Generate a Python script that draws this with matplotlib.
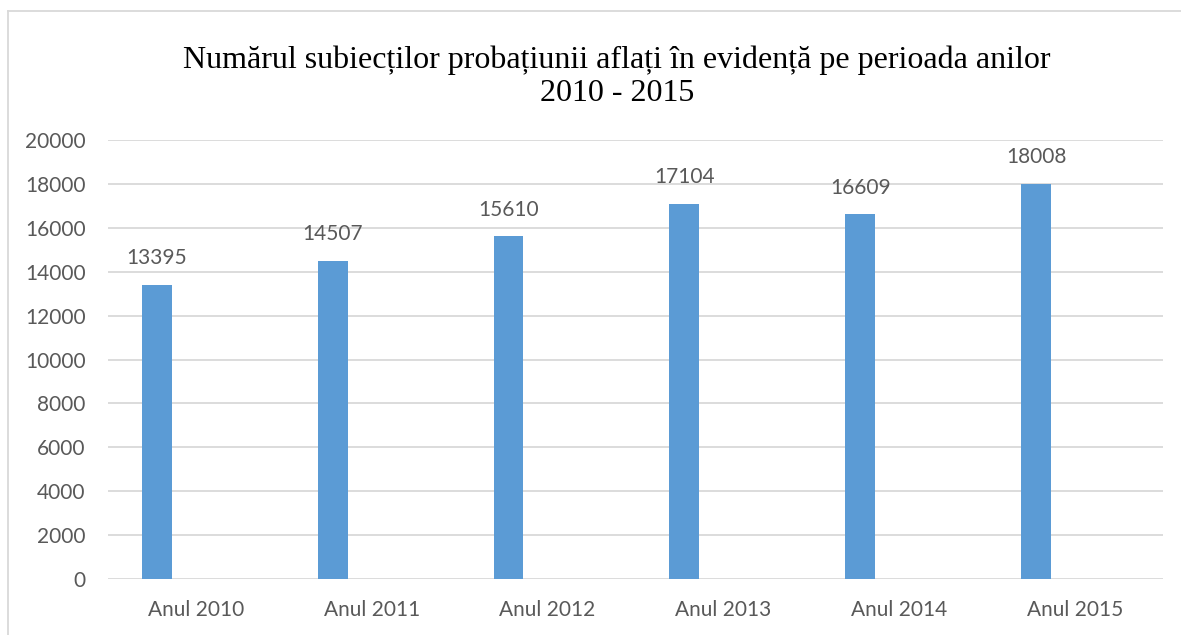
import matplotlib.pyplot as plt
from matplotlib.lines import Line2D

# values
categories = ['Anul 2010', 'Anul 2011', 'Anul 2012', 'Anul 2013', 'Anul 2014', 'Anul 2015']
subjects = [13395, 14507, 15610, 17104, 16609, 18008]
y_ticks = [0, 2000, 4000, 6000, 8000, 10000, 12000, 14000, 16000, 18000, 20000]

bar_color = '#5B9BD5'
text_color = '#595959'
grid_color = '#D9D9D9'

W, H = 1181, 635
fig = plt.figure(figsize=(W / 100, H / 100), dpi=100)
ax = fig.add_axes([108 / W, 1 - 579 / H, (1163 - 108) / W, (579 - 140) / H])

x = list(range(len(categories)))
# bars sit left of the category centre, like the original spreadsheet chart
bar_x = [i - 0.222 for i in x]
bars = ax.bar(bar_x, subjects, width=0.17, color=bar_color, zorder=3)

for bx, val in zip(bar_x, subjects):
    ax.annotate(str(val), (bx, val), xytext=(0, 12), textcoords='offset points',
                ha='center', va='bottom', fontsize=15, family='Lato', color=text_color)

ax.set_xlim(-0.5, len(categories) - 0.5)
ax.set_ylim(0, 20000)
ax.set_yticks(y_ticks)
ax.set_xticks(x)
ax.set_xticklabels(categories)
ax.grid(axis='y', color=grid_color, linewidth=1.3, zorder=0)
for s in ax.spines.values():
    s.set_visible(False)
ax.tick_params(axis='both', length=0, labelsize=15, labelcolor=text_color)
ax.tick_params(axis='y', pad=16)
ax.tick_params(axis='x', pad=15)
for lbl in ax.get_xticklabels() + ax.get_yticklabels():
    lbl.set_family('Lato')

fig.text(617 / W, 1 - 77 / H,
         'Numărul subiecților probațiunii aflați în evidență pe perioada anilor\n2010 - 2015',
         ha='center', va='center', fontsize=23, family='Liberation Serif',
         color='black', linespacing=1.2)

# chart frame (only top and left edges are visible in the crop)
fig.add_artist(Line2D([8 / W, 8 / W], [0, 1 - 11 / H], transform=fig.transFigure,
                      color=grid_color, linewidth=1.3))
fig.add_artist(Line2D([8 / W, 1], [1 - 11 / H, 1 - 11 / H], transform=fig.transFigure,
                      color=grid_color, linewidth=1.3))

fig.savefig('out.png', dpi=100)
